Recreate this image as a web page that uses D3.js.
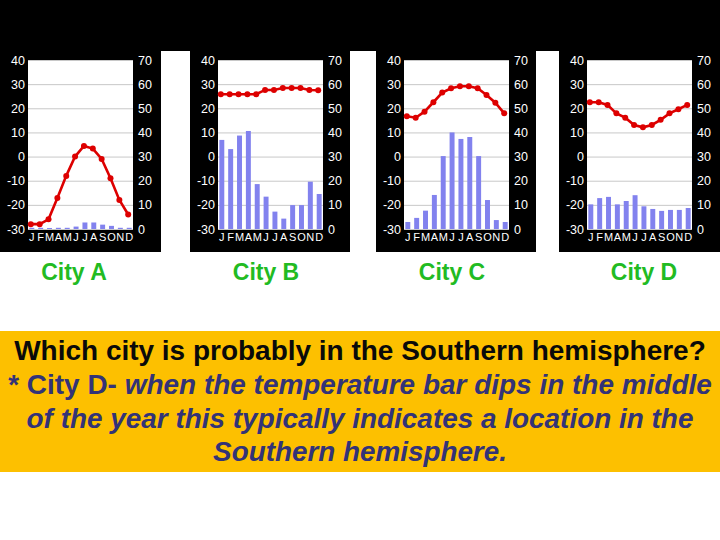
<!DOCTYPE html>
<html><head><meta charset="utf-8">
<script src="https://cdn.jsdelivr.net/npm/d3@7"></script>
<style>body{margin:0;background:#fff}</style>
</head><body>
<svg id="c" width="720" height="540"></svg>
<script>
// ---- data ----
const months = ["J","F","M","A","M","J","J","A","S","O","N","D"];
const cityNames = ["City A","City B","City C","City D"];
const tempA = [-28, -28, -26, -17.2, -8, 0, 4.4, 3.3, -1, -9, -18, -24];
const precipA = [0.5, 0.5, 0.4, 0.5, 0.5, 1, 2.7, 2.7, 1.8, 1.3, 0.5, 0.5];
const tempB = [25.8, 25.8, 25.8, 25.8, 25.8, 27.6, 27.6, 28.4, 28.4, 28.4, 27.6, 27.5];
const precipB = [36.9, 33.1, 38.7, 40.6, 18.6, 13.4, 7.2, 4.3, 9.9, 9.9, 19.6, 14.5];
const tempC = [16.7, 16.1, 18.6, 22.5, 26.5, 28.3, 29.1, 29.1, 28.3, 25.5, 22.3, 17.9];
const precipC = [2.9, 4.6, 7.6, 14.1, 30.2, 40, 37.3, 38.1, 30.2, 12, 3.7, 2.9];
const tempD = [22.5, 22.5, 21.4, 17.9, 16.1, 13.1, 12.1, 13.1, 15.2, 17.9, 19.6, 21.4];
const precipD = [10.2, 12.8, 13.3, 10.2, 11.6, 14, 9.4, 8.3, 7.5, 7.9, 7.9, 8.7];
const tempTicks = [-30,-20,-10,0,10,20,30,40];
const precipTicks = [0,10,20,30,40,50,60,70];
const question = "Which city is probably in the Southern hemisphere?";
const answerLead = "* City D- ";
const answerLines = ["when the temperature bar dips in the middle",
  "of the year this typically indicates a location in the",
  "Southern hemisphere."];

const temps = [tempA, tempB, tempC, tempD];
const precips = [precipA, precipB, precipC, precipD];

// ---- layout ----
const FONT = "'Liberation Sans', Arial, Helvetica, sans-serif";
const panelX = [0, 190, 376, 559];
const panelW = [161, 160, 160, 161];
const labelX = [74, 266, 452, 644];
const plotOffX = 28, plotW = 105, plotTop = 60, plotH = 169;

const svg = d3.select("#c");
svg.append("rect").attr("width",720).attr("height",540).attr("fill","#fff");
svg.append("rect").attr("x",0).attr("y",0).attr("width",720).attr("height",51).attr("fill","#000");

const x = d3.scaleBand().domain(d3.range(12)).range([0, plotW]).paddingInner(0.44).paddingOuter(0.15);
const yT = d3.scaleLinear().domain([-30,40]).range([plotH, 0]);
const yP = d3.scaleLinear().domain([0,70]).range([plotH, 0]);

cityNames.forEach((name, i) => {
  svg.append("rect").attr("x", panelX[i]).attr("y", 0).attr("width", panelW[i]).attr("height", 252).attr("fill", "#000");
  const g = svg.append("g").attr("transform", `translate(${panelX[i]+plotOffX},${plotTop})`);
  g.append("rect").attr("width", plotW).attr("height", plotH).attr("fill", "#fff");
  // gridlines
  g.append("g").call(d3.axisLeft(yT).tickValues(tempTicks).tickSize(-plotW).tickFormat(""))
    .call(a => a.select(".domain").remove())
    .call(a => a.selectAll("line").attr("stroke", "#c8c8c8").attr("stroke-width", 1));
  // bars
  g.selectAll("rect.bar").data(precips[i]).join("rect").attr("class","bar")
    .attr("x", (d,j) => x(j)).attr("width", x.bandwidth())
    .attr("y", d => yP(d)).attr("height", d => plotH - yP(d)).attr("fill", "#8282ee");
  // temperature line
  const px = j => x(j) + x.bandwidth()*0.3;
  g.append("path").datum(temps[i])
    .attr("d", d3.line().x((d,j) => px(j)).y(d => yT(d)))
    .attr("fill","none").attr("stroke","#dd0000").attr("stroke-width",2.6);
  g.selectAll("circle").data(temps[i]).join("circle")
    .attr("cx", (d,j) => px(j)).attr("cy", d => yT(d)).attr("r", 3).attr("fill","#dd0000");
  // axes labels
  const styleAxis = a => { a.select(".domain").remove(); a.selectAll("line").remove();
    a.selectAll("text").attr("fill","#fff").style("font-family", FONT); };
  g.append("g").call(d3.axisLeft(yT).tickValues(tempTicks).tickSize(0).tickPadding(3).tickFormat(d => String(d)))
    .call(styleAxis).selectAll("text").style("font-size","12.5px");
  g.append("g").attr("transform", `translate(${plotW},0)`)
    .call(d3.axisRight(yP).tickValues(precipTicks).tickSize(0).tickPadding(5).tickFormat(d => String(d)))
    .call(styleAxis).selectAll("text").style("font-size","12.5px");
  g.append("g").attr("transform", `translate(0,${plotH})`)
    .call(d3.axisBottom(x).tickSize(0).tickPadding(4).tickFormat(j => months[j]))
    .call(styleAxis).selectAll("text").style("font-size","11px");
  // city label
  svg.append("text").attr("x", labelX[i]).attr("y", 280).attr("text-anchor","middle")
    .style("font-family", FONT).style("font-size","23px").style("font-weight","bold")
    .attr("fill","#22bb22").text(name);
});

// answer box
svg.append("rect").attr("x",0).attr("y",331).attr("width",720).attr("height",141).attr("fill","#fdc000");

function fit(sel, target) {
  const w = sel.node().getComputedTextLength();
  const fs = parseFloat(sel.style("font-size"));
  sel.style("font-size", (fs * target / w) + "px");
}
const t1 = svg.append("text").attr("x",360).attr("y",360).attr("text-anchor","middle")
  .style("font-family",FONT).style("font-weight","bold").style("font-size","22px").attr("fill","#0a0a0a").text(question);
fit(t1, 692);
const blue = "#333377";
const t2 = svg.append("text").attr("x",360).attr("y",394).attr("text-anchor","middle")
  .style("font-family",FONT).style("font-weight","bold").style("font-size","22px").attr("fill",blue);
t2.append("tspan").text(answerLead);
t2.append("tspan").style("font-style","italic").text(answerLines[0]);
fit(t2, 704);
const targets = [667, 294];
[1,2].forEach((k, idx) => {
  const t = svg.append("text").attr("x",360).attr("y",394 + 33.5*k).attr("text-anchor","middle")
    .style("font-family",FONT).style("font-weight","bold").style("font-style","italic")
    .style("font-size","22px").attr("fill",blue).text(answerLines[k]);
  fit(t, targets[idx]);
});
</script>
</body></html>
